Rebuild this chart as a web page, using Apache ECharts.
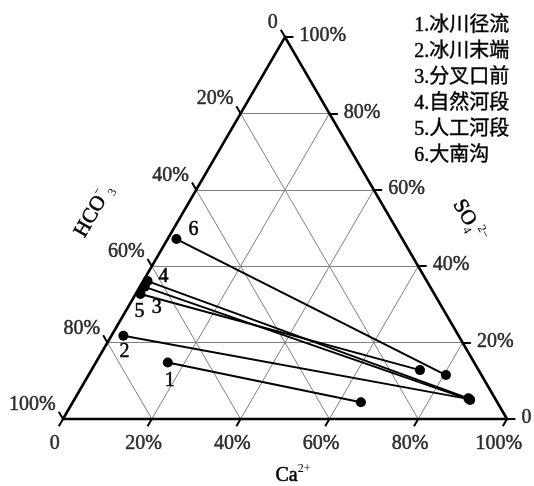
<!DOCTYPE html>
<html>
<head>
<meta charset="utf-8">
<script src="https://cdn.jsdelivr.net/npm/echarts@6/dist/echarts.min.js"></script>
<style>
  html, body { margin: 0; padding: 0; background: #fff; }
  #chart { width: 534px; height: 486px; }
</style>
</head>
<body>
<div id="chart"></div>
<script>
// Sampling sites, in legend order
const siteNames = ['冰川径流', '冰川末端', '分叉口前', '自然河段', '人工河段', '大南沟'];

// Composition (%) of the first point of each site: Ca2+, SO4 2-, HCO3-
const startCa   = [16.2, 2.7, 1.1, 1.0, 1.1, 2.0];
const startSO4  = [14.8, 21.8, 34.6, 36.1, 32.7, 47.1];
const startHCO3 = [69.0, 75.5, 64.3, 62.9, 66.2, 50.9];

// Composition (%) of the second point of each site: Ca2+, SO4 2-, HCO3-
const endCa   = [64.9, 88.9, 89.2, 88.6, 74.0, 80.5];
const endSO4  = [4.4, 5.2, 5.0, 5.4, 12.8, 11.5];
const endHCO3 = [30.7, 5.9, 5.8, 6.0, 13.2, 8.0];

// Axis ticks and inner grid levels (%)
const tickValues = [0, 20, 40, 60, 80, 100];
const gridValues = [20, 40, 60, 80];

const H = Math.sqrt(3) / 2;
const SERIF = '"Liberation Serif", "Noto Sans CJK SC", serif';
const INK = '#000';
// a hairline outline gives the serif glyphs a printed weight
const HEAVY = { textBorderColor: '#000', textBorderWidth: 0.5 };

// Ternary (Ca, SO4, HCO3) -> cartesian data space of the triangle
function toXY(ca, so4, hco3) {
  const s = ca + so4 + hco3;
  const a = ca / s, b = so4 / s;
  return [a + b / 2, b * H];
}
const tickText = v => (v === 0 ? '0' : v + '%');

// Inner grid: one line family per component
const gridSegs = [];
gridValues.forEach(g => {
  gridSegs.push({ coords: [toXY(0, g, 100 - g), toXY(100 - g, g, 0)] });   // constant SO4
  gridSegs.push({ coords: [toXY(g, 0, 100 - g), toXY(g, 100 - g, 0)] });   // constant Ca
  gridSegs.push({ coords: [toXY(100 - g, 0, g), toXY(0, 100 - g, g)] });   // constant HCO3
});

// Tick marks and their labels
const L = 0.019;
const tickSegs = [];
const caLabels = [], hcoLabels = [], soLabels = [];
tickValues.forEach(v => {
  // Ca2+ along the base, ticks parallel to the left side
  let p = toXY(v, 0, 100 - v);
  let e = [p[0] - 0.5 * L, p[1] - H * L];
  tickSegs.push({ coords: [p, e] });
  caLabels.push({ value: e, name: tickText(v) });
  // HCO3- along the left side, ticks parallel to the right side
  p = toXY(0, 100 - v, v);
  e = [p[0] - 0.5 * L, p[1] + H * L];
  tickSegs.push({ coords: [p, e] });
  hcoLabels.push({ value: e, name: tickText(v) });
  // SO4 2- along the right side, horizontal ticks
  p = toXY(100 - v, v, 0);
  e = [p[0] + L, p[1]];
  tickSegs.push({ coords: [p, e] });
  soLabels.push({ value: e, name: tickText(v) });
});

const outline = [toXY(0, 0, 100), toXY(100, 0, 0), toXY(0, 100, 0), toXY(0, 0, 100)];

// Site number label offsets next to the first point
const numOffsets = [[2, 18], [1, 16], [12, 21], [16, -4], [-1, 18], [17, -9]];

const siteSeries = siteNames.map((name, i) => ({
  type: 'line',
  name: (i + 1) + '.' + name,
  silent: true,
  clip: false,
  symbol: 'circle',
  symbolSize: 10,
  showSymbol: true,
  itemStyle: { color: INK },
  lineStyle: { color: INK, width: 2 },
  z: 10,
  data: [
    {
      value: toXY(startCa[i], startSO4[i], startHCO3[i]),
      label: Object.assign({
        show: true, position: 'inside', formatter: String(i + 1),
        offset: numOffsets[i], color: INK, fontFamily: SERIF, fontSize: 20
      }, HEAVY)
    },
    { value: toXY(endCa[i], endSO4[i], endHCO3[i]) }
  ]
}));

function labelSeries(data, labelOpts) {
  return {
    type: 'scatter',
    silent: true,
    clip: false,
    symbolSize: 0,
    data: data,
    z: 5,
    label: Object.assign({
      show: true, position: 'inside', formatter: '{b}',
      color: INK, fontFamily: SERIF, fontSize: 20
    }, HEAVY, labelOpts)
  };
}

const richTitle = (size) => ({
  m: { fontFamily: SERIF, fontSize: size, lineHeight: 26, fill: INK, stroke: INK, lineWidth: 0.5 },
  sup: { fontFamily: SERIF, fontSize: 12, verticalAlign: 'top', fill: INK },
  sub: { fontFamily: SERIF, fontSize: 12, verticalAlign: 'bottom', fill: INK }
});

const chart = echarts.init(document.getElementById('chart'), null, { renderer: 'canvas' });
chart.setOption({
  animation: false,
  backgroundColor: '#fff',
  grid: { left: 63, right: 27, top: 37, bottom: 67, containLabel: false },
  xAxis: { type: 'value', min: 0, max: 1, show: false },
  yAxis: { type: 'value', min: 0, max: H, show: false },
  graphic: [
    {
      type: 'text', left: 414, top: 13, silent: true,
      style: {
        text: siteNames.map((n, i) => (i + 1) + '.' + n).join('\n'),
        fontFamily: SERIF, fontSize: 20, lineHeight: 26, fill: INK,
        stroke: INK, lineWidth: 0.4
      }
    },
    {
      type: 'text', x: 94, y: 211, rotation: Math.PI / 3, silent: true,
      style: {
        text: '{m|HCO}{sup|−}{sub|3}',
        align: 'center', verticalAlign: 'middle', fill: INK,
        rich: richTitle(21)
      }
    },
    {
      type: 'text', x: 469, y: 221, rotation: -Math.PI / 3, silent: true,
      style: {
        text: '{m|SO}{sub|4}{sup|2−}',
        align: 'center', verticalAlign: 'middle', fill: INK,
        rich: richTitle(21)
      }
    },
    {
      type: 'text', x: 293, y: 476, silent: true,
      style: {
        text: '{m|Ca}{sup|2+}',
        align: 'center', verticalAlign: 'middle', fill: INK,
        rich: richTitle(20)
      }
    }
  ],
  series: [
    {
      type: 'lines', coordinateSystem: 'cartesian2d', silent: true, clip: false,
      lineStyle: { color: '#808080', width: 1, opacity: 1 }, z: 1,
      data: gridSegs
    },
    {
      type: 'lines', coordinateSystem: 'cartesian2d', silent: true, clip: false,
      lineStyle: { color: INK, width: 2, opacity: 1 }, z: 3,
      data: tickSegs
    },
    {
      type: 'line', silent: true, clip: false, symbol: 'none', z: 3,
      lineStyle: { color: INK, width: 2.6, join: 'miter' },
      data: outline
    },
    labelSeries(caLabels, { align: 'center', verticalAlign: 'middle', offset: [-4, 17] }),
    labelSeries(hcoLabels, { align: 'right', verticalAlign: 'middle', offset: [-3, -7] }),
    labelSeries(soLabels, { align: 'left', verticalAlign: 'middle', offset: [6, -1] })
  ].concat(siteSeries)
});
</script>
</body>
</html>
